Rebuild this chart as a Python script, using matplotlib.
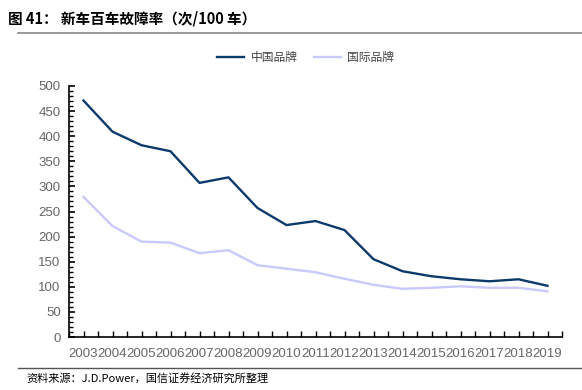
import matplotlib
matplotlib.use("Agg")
import matplotlib.pyplot as plt
from matplotlib.ticker import MultipleLocator

plt.rcParams['font.family'] = ['Liberation Sans', 'Noto Sans CJK SC', 'DejaVu Sans']

years = list(range(2003, 2020))
china = [471, 409, 382, 370, 307, 318, 257, 223, 231, 213, 155, 131, 121, 115, 111, 115, 102]
intl = [279, 221, 190, 188, 167, 173, 143, 136, 129, 116, 104, 96, 98, 101, 98, 98, 91]
series_names = ['中国品牌', '国际品牌']

fig = plt.figure(figsize=(5.82, 3.9), dpi=100)
ax = fig.add_axes([69 / 582, 1 - 337 / 390, (562 - 69) / 582, (337 - 86) / 390])

ax.plot(years, china, color='#0B3A6B', lw=1.7, label=series_names[0])
ax.plot(years, intl, color='#C9C9FB', lw=1.7, label=series_names[1])

ax.set_xlim(2002.5, 2019.5)
ax.set_ylim(0, 500)
ax.set_xticks(years)
ax.set_xticklabels([str(y) for y in years])
ax.xaxis.set_minor_locator(MultipleLocator(0.5))
ax.yaxis.set_major_locator(MultipleLocator(50))
ax.yaxis.set_minor_locator(MultipleLocator(10))

for s in ['top', 'right']:
    ax.spines[s].set_visible(False)
for s in ['left', 'bottom']:
    ax.spines[s].set_linewidth(1.2)
    ax.spines[s].set_color('black')

ax.tick_params(axis='both', which='both', direction='in', colors='black', labelcolor='#666666', labelsize=9.5)
ax.tick_params(axis='y', which='major', length=4, width=1.2, pad=6)
ax.tick_params(axis='y', which='minor', length=3, width=1)
ax.tick_params(axis='x', which='major', length=4, width=1, pad=8)
ax.tick_params(axis='x', which='minor', length=4, width=1)

leg = ax.legend(loc='center', bbox_to_anchor=(0.48, 1.115), ncol=2, frameon=False,
                handlelength=2.3, columnspacing=1.4, handletextpad=0.5,
                prop={'family': ['Noto Sans CJK SC'], 'size': 8.5})
for t in leg.get_texts():
    t.set_color('#444444')

fig.text(8 / 582, 1 - 18 / 390, '图 41： 新车百车故障率（次/100 车）', fontsize=10.5, fontweight='bold',
         family=['Noto Sans CJK SC'], va='center', ha='left')
fig.add_artist(plt.Line2D([18 / 582, 1], [1 - 33 / 390] * 2, color='#888888', lw=1.2))
fig.add_artist(plt.Line2D([18 / 582, 1], [1 - 368 / 390] * 2, color='#555555', lw=1))
fig.text(26 / 582, 1 - 378 / 390, '资料来源：J.D.Power，国信证券经济研究所整理', fontsize=8,
         family=['Noto Sans CJK SC'], va='center', ha='left')

fig.savefig('out.png', dpi=100)
